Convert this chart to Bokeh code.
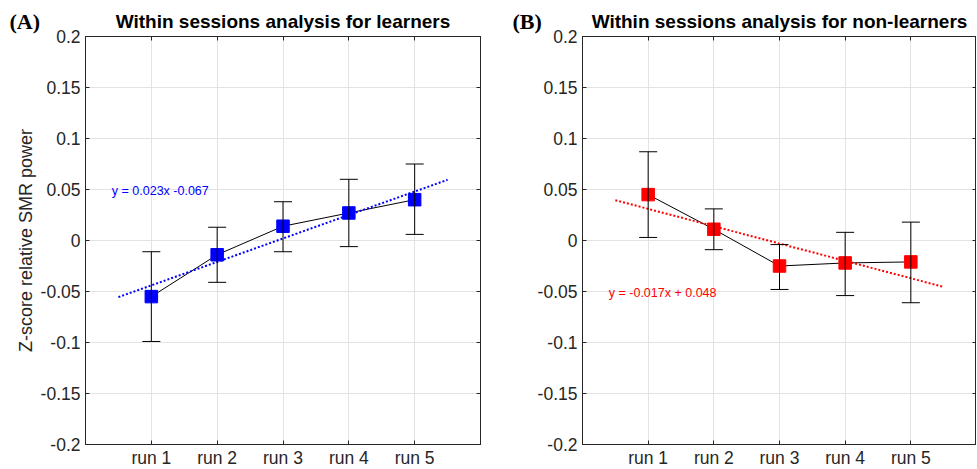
from bokeh.plotting import figure
from bokeh.layouts import row
from bokeh.models import (FixedTicker, CustomJSTickFormatter, LinearAxis, Whisker,
                          ColumnDataSource, TeeHead, Range1d, Title)
from bokeh.embed import file_html
from bokeh.resources import INLINE
from bokeh.core.properties import value

# ---------------- data ----------------
runs = ["run 1", "run 2", "run 3", "run 4", "run 5"]
run_pos = [1, 2, 3, 4, 5]
y_ticks = [-0.2, -0.15, -0.1, -0.05, 0, 0.05, 0.1, 0.15, 0.2]

learners_mean = [-0.055, -0.014, 0.014, 0.027, 0.040]
learners_upper = [-0.011, 0.013, 0.038, 0.060, 0.075]
learners_lower = [-0.099, -0.041, -0.011, -0.006, 0.006]
learners_slope = 0.023
learners_intercept = -0.067

nonlearners_mean = [0.045, 0.011, -0.025, -0.022, -0.021]
nonlearners_upper = [0.087, 0.031, -0.004, 0.008, 0.018]
nonlearners_lower = [0.003, -0.009, -0.048, -0.054, -0.061]
nonlearners_slope = -0.017
nonlearners_intercept = 0.048

fit_x = [0.5, 5.5]

FONT = "Liberation Sans"
AX_COL = "#262626"
FH = 408


def make_panel(title, mean, upper, lower, slope, intercept, color, eq_text,
               eq_x, eq_y, letter, letter_offset, fw, border_left,
               border_right, ylabel):
    p = figure(frame_width=fw, frame_height=FH, x_range=Range1d(0, 6),
               y_range=Range1d(-0.2, 0.2), output_backend="svg",
               toolbar_location=None, min_border_left=border_left,
               min_border_right=border_right, min_border_top=36,
               min_border_bottom=24, background_fill_color="white",
               border_fill_color="white")
    p.title.text = title
    p.title.text_font = FONT
    p.title.text_font_size = "19px"
    p.title.text_font_style = "bold"
    p.title.align = "center"
    p.title.text_color = "black"
    p.title.standoff = -57

    p.outline_line_color = AX_COL
    p.outline_line_width = 1

    xa = p.xaxis[0]
    xa.ticker = FixedTicker(ticks=run_pos)
    xa.major_label_overrides = {pos: lab for pos, lab in zip(run_pos, runs)}
    ya = p.yaxis[0]
    ya.ticker = FixedTicker(ticks=y_ticks)
    ya.formatter = CustomJSTickFormatter(code="""
        let s = tick.toFixed(2);
        s = s.replace(/0+$/, '').replace(/\\.$/, '');
        if (s === '-0') s = '0';
        return s;
    """)
    for ax in (xa, ya):
        ax.major_tick_in = 4
        ax.major_tick_out = 0
        ax.minor_tick_in = 0
        ax.minor_tick_out = 0
        ax.axis_line_color = AX_COL
        ax.major_tick_line_color = AX_COL
        ax.major_label_text_font = FONT
        ax.major_label_text_font_size = "17.5px"
        ax.major_label_text_color = AX_COL
    xa.major_label_standoff = 3
    ya.major_label_standoff = 5
    if ylabel:
        ya.axis_label = ylabel
        ya.axis_label_text_font = FONT
        ya.axis_label_text_font_size = "18px"
        ya.axis_label_text_font_style = "normal"
        ya.axis_label_text_color = AX_COL
        ya.axis_label_standoff = 2

    # right & top axes: inward ticks only
    ra = LinearAxis(ticker=FixedTicker(ticks=y_ticks), major_tick_in=4,
                    major_tick_out=0, minor_tick_in=0, minor_tick_out=0,
                    formatter=CustomJSTickFormatter(code="return '';"),
                    major_label_text_font_size="1px", major_label_standoff=0,
                    axis_line_color=AX_COL, major_tick_line_color=AX_COL)
    ta = LinearAxis(ticker=FixedTicker(ticks=run_pos), major_tick_in=4,
                    major_tick_out=0, minor_tick_in=0, minor_tick_out=0,
                    formatter=CustomJSTickFormatter(code="return '';"),
                    major_label_text_font_size="1px", major_label_standoff=0,
                    axis_line_color=AX_COL, major_tick_line_color=AX_COL)
    p.add_layout(ra, "right")
    p.add_layout(ta, "above")

    # panel letter as an extra title
    p.add_layout(Title(text=letter, align="left", offset=letter_offset,
                       standoff=6, text_font="Liberation Serif",
                       text_font_style="bold", text_font_size="22px",
                       text_color="black"), "above")

    p.xgrid.ticker = FixedTicker(ticks=run_pos)
    p.ygrid.ticker = FixedTicker(ticks=y_ticks)
    p.xgrid.grid_line_color = "#e3e3e3"
    p.ygrid.grid_line_color = "#e3e3e3"

    src = ColumnDataSource(dict(x=run_pos, mean=mean, upper=upper, lower=lower))

    w = Whisker(base="x", upper="upper", lower="lower", source=src,
                line_color="black", line_width=1,
                upper_head=TeeHead(size=18, line_color="black", line_width=1),
                lower_head=TeeHead(size=18, line_color="black", line_width=1))
    w.level = "glyph"
    p.add_layout(w)

    p.line("x", "mean", source=src, line_color="black", line_width=1)
    fit_y = [slope * x + intercept for x in fit_x]
    p.line(fit_x, fit_y, line_color=color, line_width=2, line_dash="2 2")
    p.scatter("x", "mean", source=src, marker="square", size=12.5,
              fill_color=color, line_color=color)

    p.text(x=[eq_x], y=[eq_y], text=[eq_text], text_font=value(FONT),
           text_font_size="12.5px", text_color=color, text_baseline="middle",
           text_align="left")
    return p


p1 = make_panel("Within sessions analysis for learners", learners_mean,
                learners_upper, learners_lower, learners_slope,
                learners_intercept, "#0000ff", "y = 0.023x -0.067", 0.40, 0.049,
                "(A)", -76, 395, 85, 30, "Z-score relative SMR power")
p2 = make_panel("Within sessions analysis for non-learners", nonlearners_mean,
                nonlearners_upper, nonlearners_lower, nonlearners_slope,
                nonlearners_intercept, "#ff0000", "y = -0.017x + 0.048", 0.40,
                -0.051, "(B)", -70, 394, 72, 0, None)

layout = row(p1, p2)
open("out.html", "w").write(file_html(layout, INLINE))
